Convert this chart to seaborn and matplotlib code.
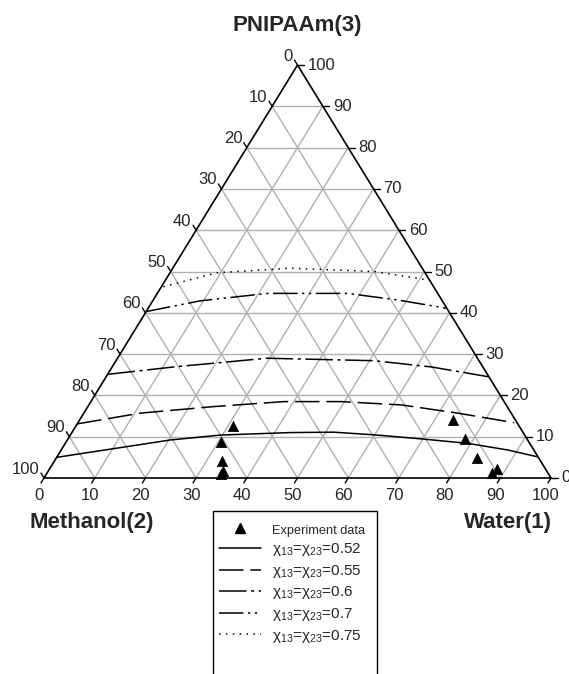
import numpy as np
import pandas as pd
import matplotlib
matplotlib.use("Agg")
import matplotlib.pyplot as plt
import seaborn as sns
from matplotlib.lines import Line2D
from matplotlib.patches import Rectangle
from matplotlib.transforms import offset_copy

# Binodal curves: water (1) and PNIPAAm (3) contents in percent
water_052 = [0.0, 20.3, 29.6, 43.1, 51.6, 60.5, 70.3, 79.3, 88.0, 94.9]
pnipaam_052 = [5.0, 9.2, 10.4, 11.0, 11.1, 10.4, 9.4, 8.4, 6.8, 5.1]

water_055 = [0.0, 11.1, 24.9, 38.1, 49.3, 61.6, 73.8, 86.0]
pnipaam_055 = [13.1, 15.7, 17.3, 18.5, 18.5, 17.7, 15.7, 13.4]

water_060 = [0.0, 12.2, 29.5, 50.9, 62.9, 75.5]
pnipaam_060 = [25.1, 26.9, 29.0, 28.4, 26.9, 24.5]

water_070 = [0.0, 9.4, 21.7, 37.5, 48.2, 58.9]
pnipaam_070 = [40.3, 42.9, 44.7, 44.7, 43.1, 41.1]

water_075 = [0.4, 9.3, 23.2, 40.1, 52.1]
pnipaam_075 = [46.3, 49.7, 50.8, 50.0, 47.9]

# Experimental cloud points
exp_water = [31.0, 30.6, 33.0, 34.5, 34.5, 73.6, 78.3, 82.9, 88.2, 87.9]
exp_pnipaam = [12.7, 8.6, 4.2, 1.7, 1.0, 14.0, 9.4, 4.9, 2.2, 1.1]

chi_values = ["0.52", "0.55", "0.6", "0.7", "0.75"]
tick_values = list(range(0, 101, 10))

sns.set_theme(style="white")
plt.rcParams["font.family"] = ["Liberation Sans", "DejaVu Sans"]
plt.rcParams["mathtext.fontset"] = "custom"
plt.rcParams["mathtext.rm"] = "Liberation Sans"
plt.rcParams["mathtext.it"] = "Liberation Sans:italic"

W, H = 569, 674
fig = plt.figure(figsize=(W / 100, H / 100), dpi=100)
fig.patch.set_facecolor("white")
ax = fig.add_axes([0, 0, 1, 1])
sx, sy, x0, y0 = 5.07, 4.13, 44.0, 478.0


def cart(w, p):
    w = np.asarray(w, float)
    p = np.asarray(p, float)
    return w + 0.5 * p, p


# grid lines
grid_kw = dict(color="#b0b0b0", lw=1.0, zorder=1)
for k in range(10, 100, 10):
    # constant PNIPAAm
    xa, ya = cart([0, 100 - k], [k, k])
    ax.plot(xa, ya, **grid_kw)
    # constant water
    xa, ya = cart([k, k], [0, 100 - k])
    ax.plot(xa, ya, **grid_kw)
    # constant methanol
    xa, ya = cart([0, 100 - k], [100 - k, 0])
    ax.plot(xa, ya, **grid_kw)

# triangle frame
fx, fy = cart([0, 100, 0, 0], [0, 0, 100, 0])
ax.plot(fx, fy, color="black", lw=1.2, zorder=3, solid_joinstyle="miter")

# ticks and tick labels
tl = 1.2
for k in tick_values:
    # bottom axis: water
    bx, by = cart(k, 0)
    ax.plot([bx, bx - 0.5 * tl], [by, by - tl], color="black", lw=1.0, zorder=3)
    ax.text(bx, by, str(k), fontsize=12, ha="center", va="center",
            transform=offset_copy(ax.transData, fig, x=-5, y=-18, units="dots"))
    # left axis: methanol
    p = 100 - k
    lx, ly = cart(0, p)
    ax.plot([lx, lx - 0.5 * tl], [ly, ly + tl], color="black", lw=1.0, zorder=3)
    ax.text(lx, ly, str(k), fontsize=12, ha="right", va="center",
            transform=offset_copy(ax.transData, fig, x=-4.5, y=9, units="dots"))
    # right axis: PNIPAAm
    rx, ry = cart(100 - k, k)
    ax.plot([rx, rx + 1.3], [ry, ry], color="black", lw=1.0, zorder=3)
    ax.text(rx, ry, str(k), fontsize=12, ha="left", va="center",
            transform=offset_copy(ax.transData, fig, x=10, y=0, units="dots"))

# axis titles
fig.text(297.5 / W, 1 - 31 / H, "PNIPAAm(3)", fontsize=16, fontweight="bold",
         ha="center", va="baseline")
fig.text(92 / W, 1 - 528 / H, "Methanol(2)", fontsize=16, fontweight="bold",
         ha="center", va="baseline")
fig.text(508 / W, 1 - 528 / H, "Water(1)", fontsize=16, fontweight="bold",
         ha="center", va="baseline")

# binodal curves
curve_styles = [
    (water_052, pnipaam_052, "-"),
    (water_055, pnipaam_055, (0, (16, 4.5))),
    (water_060, pnipaam_060, (0, (18, 3, 2, 3))),
    (water_070, pnipaam_070, (0, (16, 3, 1.5, 3, 1.5, 3))),
    (water_075, pnipaam_075, (0, (1, 3.5))),
]
handles = [Line2D([], [], ls="none", marker="^", color="black", markersize=7)]
labels = ["Experiment data"]
for (w, p, ls), chi in zip(curve_styles, chi_values):
    cx, cy = cart(w, p)
    df = pd.DataFrame({"x": cx, "y": cy})
    sns.lineplot(data=df, x="x", y="y", sort=False, estimator=None, ax=ax,
                 color="black", lw=1.1, linestyle=ls, zorder=4)
    handles.append(Line2D([], [], color="black", lw=1.1, linestyle=ls))
    labels.append("χ$_{13}$=χ$_{23}$=" + chi)

ex, ey = cart(exp_water, exp_pnipaam)
sns.scatterplot(x=ex, y=ey, ax=ax, marker="^", color="black", s=55,
                edgecolor="black", linewidth=0.5, zorder=5)
ax.set_xlim(-x0 / sx, (W - x0) / sx)
ax.set_ylim((y0 - H) / sy, y0 / sy)
ax.axis("off")

# legend box
fig.patches.append(Rectangle((213 / W, (H - 690) / H), 164 / W, (690 - 511) / H,
                             transform=fig.transFigure, fill=False,
                             edgecolor="black", lw=1.0))
leg = ax.legend(handles, labels, loc="upper left",
                bbox_to_anchor=(219 / W, 1 - 523 / H), bbox_transform=fig.transFigure,
                frameon=False, fontsize=11, handlelength=2.75, handletextpad=0.7,
                labelspacing=0.3, borderpad=0, borderaxespad=0)
leg.get_texts()[0].set_fontsize(9.2)

fig.savefig("out.png", dpi=100, facecolor="white")
